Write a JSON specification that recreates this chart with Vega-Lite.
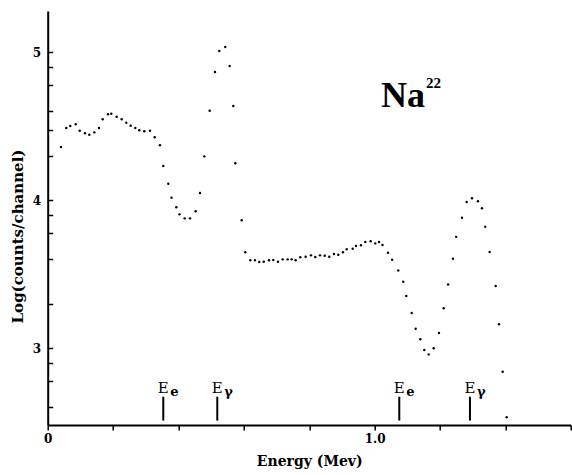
{
  "$schema": "https://vega.github.io/schema/vega-lite/v6.json",
  "width": 523,
  "height": 414,
  "autosize": {"type": "none"},
  "padding": {"left": 47.7, "top": 11, "right": 1.3, "bottom": 50},
  "background": "white",
  "config": {
    "view": {"stroke": null},
    "axis": {
      "grid": false,
      "ticks": true,
      "domainColor": "black",
      "domainWidth": 2,
      "tickColor": "black",
      "tickWidth": 1.5,
      "labelColor": "black",
      "titleColor": "black",
      "labelFont": "DejaVu Serif",
      "labelFontWeight": "bold",
      "labelFontSize": 12,
      "titleFont": "DejaVu Serif",
      "titleFontWeight": "bold",
      "labelFlush": false,
      "labelOverlap": false
    }
  },
  "resolve": {"axis": {"x": "independent", "y": "independent"}},
  "datasets": {
    "spectrum": [
      {"energy": 0.0407, "log_counts": 4.360}, {"energy": 0.0569, "log_counts": 4.489}, {"energy": 0.0691, "log_counts": 4.502}, {"energy": 0.0857, "log_counts": 4.514},
      {"energy": 0.0979, "log_counts": 4.470}, {"energy": 0.1141, "log_counts": 4.453}, {"energy": 0.1273, "log_counts": 4.443}, {"energy": 0.1426, "log_counts": 4.459},
      {"energy": 0.1569, "log_counts": 4.489}, {"energy": 0.1682, "log_counts": 4.547}, {"energy": 0.1845, "log_counts": 4.581}, {"energy": 0.1946, "log_counts": 4.585},
      {"energy": 0.2111, "log_counts": 4.565}, {"energy": 0.2264, "log_counts": 4.547}, {"energy": 0.2404, "log_counts": 4.524}, {"energy": 0.2539, "log_counts": 4.504},
      {"energy": 0.2680, "log_counts": 4.489}, {"energy": 0.2802, "log_counts": 4.473}, {"energy": 0.2955, "log_counts": 4.466}, {"energy": 0.3129, "log_counts": 4.470},
      {"energy": 0.3273, "log_counts": 4.426}, {"energy": 0.3435, "log_counts": 4.372}, {"energy": 0.3536, "log_counts": 4.232}, {"energy": 0.3689, "log_counts": 4.112},
      {"energy": 0.3787, "log_counts": 4.018}, {"energy": 0.3934, "log_counts": 3.953}, {"energy": 0.4032, "log_counts": 3.905}, {"energy": 0.4191, "log_counts": 3.878},
      {"energy": 0.4353, "log_counts": 3.878}, {"energy": 0.4527, "log_counts": 3.926}, {"energy": 0.4659, "log_counts": 4.049}, {"energy": 0.4790, "log_counts": 4.297},
      {"energy": 0.4956, "log_counts": 4.605}, {"energy": 0.5118, "log_counts": 4.867}, {"energy": 0.5249, "log_counts": 5.009}, {"energy": 0.5433, "log_counts": 5.036},
      {"energy": 0.5567, "log_counts": 4.907}, {"energy": 0.5678, "log_counts": 4.637}, {"energy": 0.5739, "log_counts": 4.250}, {"energy": 0.5935, "log_counts": 3.865},
      {"energy": 0.6045, "log_counts": 3.649}, {"energy": 0.6198, "log_counts": 3.595}, {"energy": 0.6341, "log_counts": 3.595}, {"energy": 0.6473, "log_counts": 3.583},
      {"energy": 0.6608, "log_counts": 3.585}, {"energy": 0.6770, "log_counts": 3.595}, {"energy": 0.6901, "log_counts": 3.597}, {"energy": 0.7045, "log_counts": 3.585},
      {"energy": 0.7189, "log_counts": 3.601}, {"energy": 0.7342, "log_counts": 3.601}, {"energy": 0.7464, "log_counts": 3.601}, {"energy": 0.7586, "log_counts": 3.595},
      {"energy": 0.7727, "log_counts": 3.615}, {"energy": 0.7892, "log_counts": 3.619}, {"energy": 0.8055, "log_counts": 3.628}, {"energy": 0.8186, "log_counts": 3.617},
      {"energy": 0.8330, "log_counts": 3.628}, {"energy": 0.8474, "log_counts": 3.626}, {"energy": 0.8614, "log_counts": 3.619}, {"energy": 0.8758, "log_counts": 3.637},
      {"energy": 0.8890, "log_counts": 3.632}, {"energy": 0.9033, "log_counts": 3.649}, {"energy": 0.9147, "log_counts": 3.669}, {"energy": 0.9330, "log_counts": 3.673},
      {"energy": 0.9431, "log_counts": 3.691}, {"energy": 0.9584, "log_counts": 3.696}, {"energy": 0.9716, "log_counts": 3.718}, {"energy": 0.9881, "log_counts": 3.723},
      {"energy": 1.0021, "log_counts": 3.709}, {"energy": 1.0135, "log_counts": 3.718}, {"energy": 1.0242, "log_counts": 3.698}, {"energy": 1.0410, "log_counts": 3.646},
      {"energy": 1.0538, "log_counts": 3.599}, {"energy": 1.0725, "log_counts": 3.526}, {"energy": 1.0878, "log_counts": 3.450}, {"energy": 1.0970, "log_counts": 3.353},
      {"energy": 1.1135, "log_counts": 3.239}, {"energy": 1.1257, "log_counts": 3.132}, {"energy": 1.1398, "log_counts": 3.061}, {"energy": 1.1520, "log_counts": 2.989},
      {"energy": 1.1655, "log_counts": 2.959}, {"energy": 1.1808, "log_counts": 3.000}, {"energy": 1.1970, "log_counts": 3.103}, {"energy": 1.2114, "log_counts": 3.271},
      {"energy": 1.2251, "log_counts": 3.432}, {"energy": 1.2398, "log_counts": 3.605}, {"energy": 1.2496, "log_counts": 3.753}, {"energy": 1.2674, "log_counts": 3.882},
      {"energy": 1.2818, "log_counts": 3.989}, {"energy": 1.2980, "log_counts": 4.014}, {"energy": 1.3163, "log_counts": 3.993}, {"energy": 1.3285, "log_counts": 3.946},
      {"energy": 1.3386, "log_counts": 3.822}, {"energy": 1.3521, "log_counts": 3.651}, {"energy": 1.3705, "log_counts": 3.421}, {"energy": 1.3806, "log_counts": 3.162},
      {"energy": 1.3919, "log_counts": 2.842}, {"energy": 1.4041, "log_counts": 2.534}
    ],
    "markers": [
      {"energy": 0.3536, "sub": "e"},
      {"energy": 0.5188, "sub": "γ"},
      {"energy": 1.0756, "sub": "e"},
      {"energy": 1.2918, "sub": "γ"}
    ],
    "isotope": [
      {"element": "Na", "mass": "22"}
    ]
  },
  "layer": [
    {
      "data": {"name": "spectrum"},
      "mark": {"type": "circle", "size": 6, "color": "black", "opacity": 1},
      "encoding": {
        "x": {
          "field": "energy", "type": "quantitative",
          "scale": {"domain": [0, 1.6], "nice": false, "zero": false},
          "axis": {
            "title": "Energy (Mev)",
            "titleFontSize": 14,
            "titlePadding": 10,
            "values": [0, 0.2, 0.4, 0.6, 0.8, 1, 1.2, 1.4, 1.6],
            "labelExpr": "datum.value == 0 ? '0' : (datum.value == 1 ? '1.0' : '')",
            "labelOverlap": false,
            "ticks": true,
            "tickSize": 5,
            "labelPadding": 3
          }
        },
        "y": {
          "field": "log_counts", "type": "quantitative",
          "scale": {"domain": [2.482, 5.279], "nice": false, "zero": false},
          "axis": {
            "title": "Log(counts/channel)",
            "titleFontSize": 15,
            "titlePadding": 7,
            "titleY": 225,
            "values": [2.602, 2.778, 2.903, 3, 3.301, 3.602, 3.778, 3.903, 4, 4.301, 4.477, 4.602, 4.778, 4.903, 5],
            "labelExpr": "datum.value == 3 ? '3' : (datum.value == 4 ? '4' : (datum.value == 5 ? '5' : ''))",
            "labelOverlap": false,
            "ticks": true,
            "tickSize": -5,
            "labelPadding": 12
          }
        }
      }
    },
    {
      "data": {"name": "markers"},
      "mark": {"type": "rule", "color": "black", "strokeWidth": 2},
      "encoding": {
        "x": {"field": "energy", "type": "quantitative", "axis": null},
        "y": {"datum": 2.512, "type": "quantitative", "axis": null},
        "y2": {"datum": 2.673}
      }
    },
    {
      "data": {"name": "markers"},
      "mark": {"type": "text", "text": "E", "font": "DejaVu Serif", "fontSize": 15, "color": "black", "align": "center", "baseline": "alphabetic"},
      "encoding": {
        "x": {"field": "energy", "type": "quantitative", "axis": null},
        "y": {"datum": 2.70, "type": "quantitative", "axis": null}
      }
    },
    {
      "data": {"name": "markers"},
      "mark": {"type": "text", "font": "DejaVu Serif", "fontSize": 13, "fontWeight": "bold", "color": "black", "align": "left", "baseline": "alphabetic", "dx": 7, "dy": 3},
      "encoding": {
        "x": {"field": "energy", "type": "quantitative", "axis": null},
        "y": {"datum": 2.70, "type": "quantitative", "axis": null},
        "text": {"field": "sub"}
      }
    },
    {
      "data": {"name": "isotope"},
      "mark": {"type": "text", "font": "Liberation Serif", "fontSize": 36, "fontWeight": "bold", "color": "black", "align": "left", "baseline": "alphabetic"},
      "encoding": {
        "x": {"datum": 1.0196, "type": "quantitative", "axis": null},
        "y": {"datum": 4.630, "type": "quantitative", "axis": null},
        "text": {"field": "element"}
      }
    },
    {
      "data": {"name": "isotope"},
      "mark": {"type": "text", "font": "Liberation Serif", "fontSize": 15, "fontWeight": "bold", "color": "black", "align": "left", "baseline": "alphabetic"},
      "encoding": {
        "x": {"datum": 1.157, "type": "quantitative", "axis": null},
        "y": {"datum": 4.759, "type": "quantitative", "axis": null},
        "text": {"field": "mass"}
      }
    }
  ]
}
